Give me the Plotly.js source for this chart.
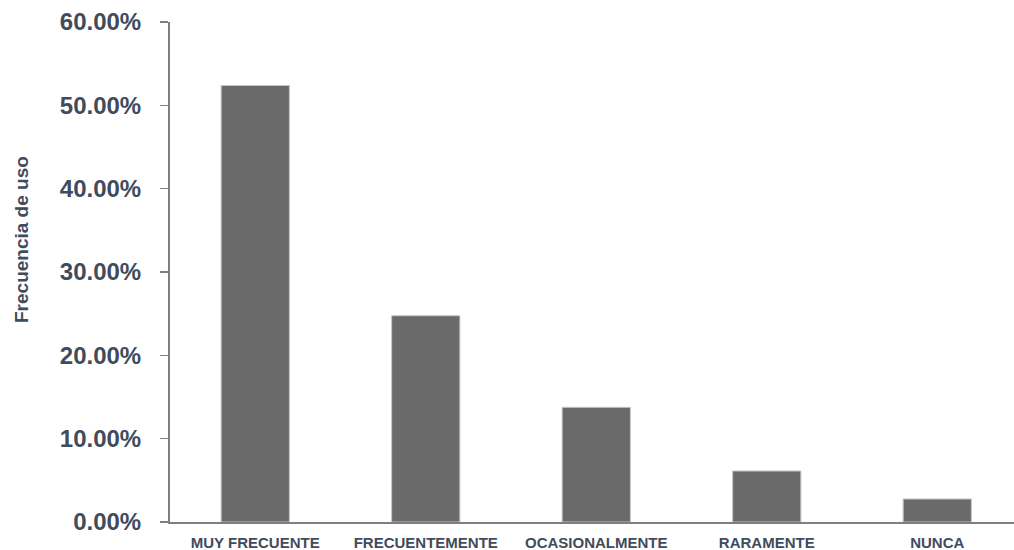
<!DOCTYPE html>
<html>
<head>
<meta charset="utf-8">
<script src="https://cdn.plot.ly/plotly-3.0.1.min.js"></script>
<style>html,body{margin:0;padding:0;background:#fff;}#chart{width:1014px;height:550px;}</style>
</head>
<body>
<div id="chart"></div>
<script>
const categories = ["MUY FRECUENTE", "FRECUENTEMENTE", "OCASIONALMENTE", "RARAMENTE", "NUNCA"];
const values = [0.5238, 0.2475, 0.1376, 0.0612, 0.0276];
const yTitle = "Frecuencia de uso";

const textColor = "#404b5c";
const axisColor = "#7f7f7f";

const trace = {
  type: "bar",
  x: categories,
  y: values,
  width: 0.4,
  marker: { color: "#6a6a6a", line: { color: "#c4c4c4", width: 1 } },
  hoverinfo: "x+y"
};

const layout = {
  width: 1014,
  height: 550,
  margin: { l: 170, r: 0, t: 22, b: 28, pad: 0 },
  paper_bgcolor: "#ffffff",
  plot_bgcolor: "#ffffff",
  showlegend: false,
  bargap: 0.6,
  xaxis: {
    type: "category",
    range: [-0.5, 4.45],
    showline: true,
    linecolor: axisColor,
    linewidth: 2,
    ticks: "",
    showgrid: false,
    zeroline: false,
    tickfont: { family: "Liberation Sans, Arial, sans-serif", size: 15, color: textColor, weight: "bold" },
    ticklabelstandoff: 6
  },
  yaxis: {
    range: [0, 0.6],
    dtick: 0.1,
    tickformat: ".2%",
    showline: true,
    linecolor: axisColor,
    linewidth: 2,
    ticks: "outside",
    ticklen: 8,
    tickwidth: 1.5,
    tickcolor: axisColor,
    showgrid: false,
    zeroline: false,
    tickfont: { family: "Liberation Sans, Arial, sans-serif", size: 24, color: textColor, weight: "bold" },
    ticklabelstandoff: 14
  },
  annotations: [{
    text: yTitle,
    xref: "paper", yref: "paper",
    x: (21 - 170) / 844, y: (522 - 240) / 500,
    xanchor: "center", yanchor: "middle",
    textangle: -90,
    showarrow: false,
    font: { family: "Liberation Sans Narrow, Liberation Sans, Arial, sans-serif", size: 19, color: textColor, weight: "bold", stretch: "condensed" }
  }]
};

Plotly.newPlot("chart", [trace], layout, { displayModeBar: false, staticPlot: true });
</script>
</body>
</html>
